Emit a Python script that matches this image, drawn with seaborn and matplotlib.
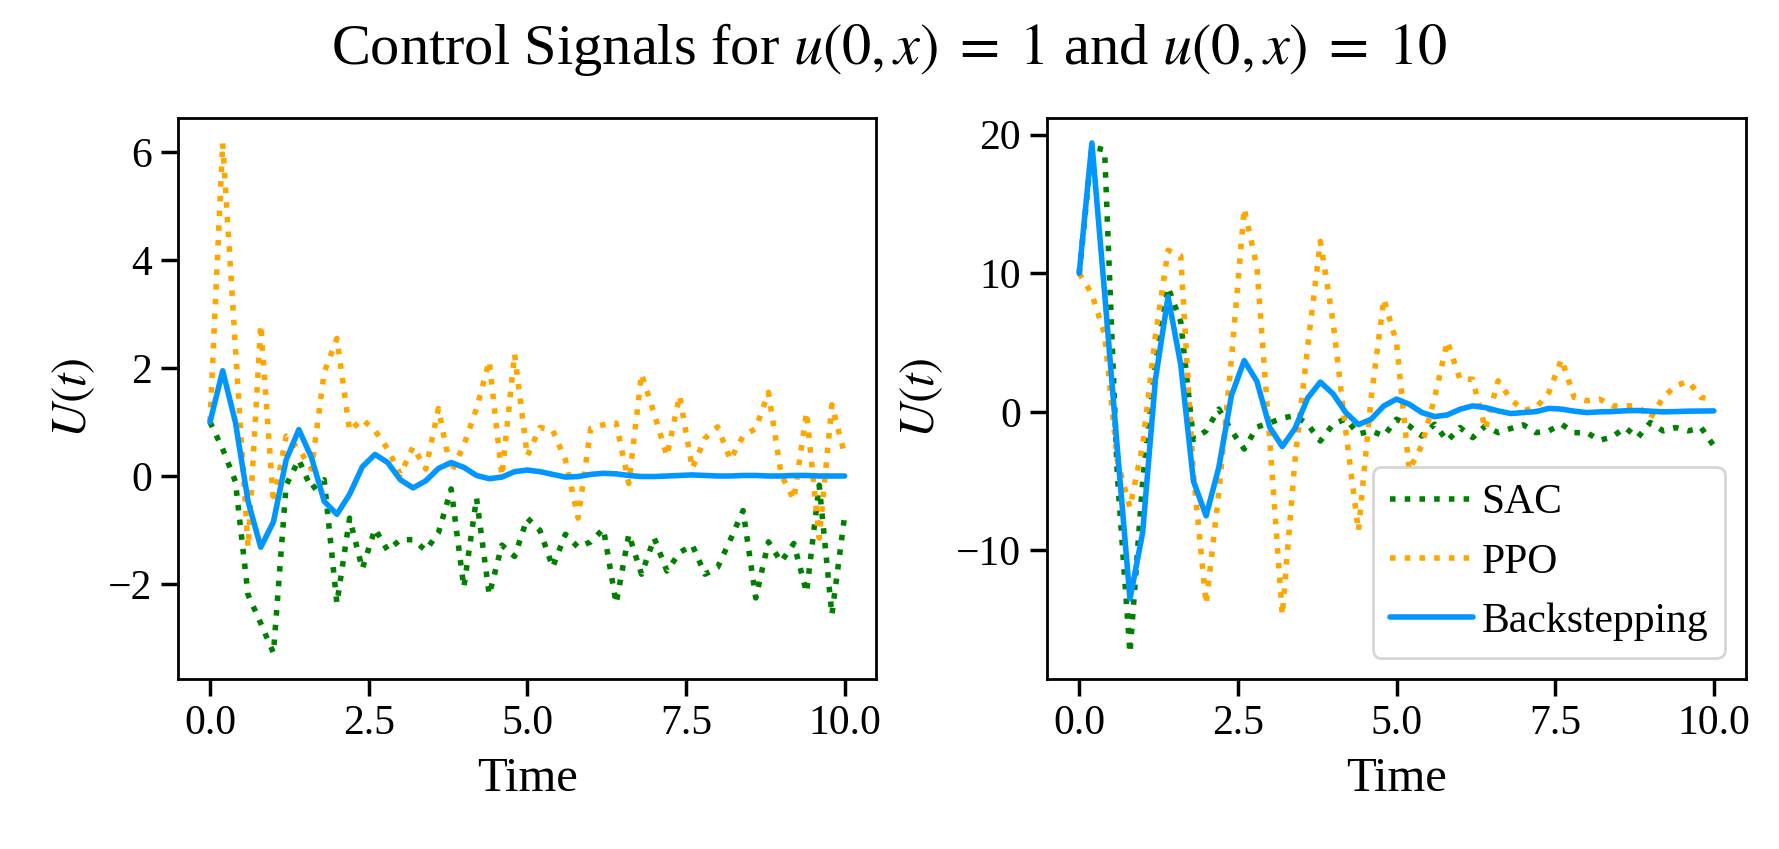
import numpy as np
import pandas as pd
import matplotlib
matplotlib.use("Agg")
import matplotlib.pyplot as plt
import seaborn as sns

sns.set_theme(style="ticks")
plt.rcParams.update({
    "font.family": ["Liberation Serif", "DejaVu Serif"],
    "mathtext.fontset": "stix",
    "axes.edgecolor": "black",
    "axes.linewidth": 1.0,
    "xtick.color": "black",
    "ytick.color": "black",
    "axes.labelcolor": "black",
    "text.color": "black",
    "xtick.labelsize": 15,
    "ytick.labelsize": 15,
    "axes.labelsize": 17.5,
    "legend.fontsize": 15,
})

time = np.linspace(0, 10, 51)

# u(0,x) = 1
sac_1 = [1.0, 0.5, -0.1, -2.2, -2.73, -3.28, -0.17, 0.3, -0.24, -0.07,
         -2.36, -0.78, -1.72, -0.98, -1.38, -1.18, -1.18, -1.38, -1.05, -0.24,
         -2.06, -0.41, -2.2, -1.28, -1.49, -0.78, -1.01, -1.69, -1.08, -1.32,
         -1.22, -0.98, -2.36, -1.08, -1.82, -1.15, -1.76, -1.42, -1.28, -1.82,
         -1.69, -1.18, -0.64, -2.26, -1.22, -1.59, -1.25, -2.16, -0.17, -2.57,
         -0.74]
ppo_1 = [1.0, 6.17, 2.4, -1.32, 2.8, -0.5, 0.74, 0.5, 0.13, 1.92,
         2.55, 0.84, 1.05, 0.84, 0.5, 0.03, 0.54, 0.13, 1.25, 0.07,
         0.57, 1.25, 2.13, 0.0, 2.26, 0.37, 0.9, 0.85, 0.3, -0.78,
         0.88, 0.95, 0.98, -0.14, 1.89, 1.15, 0.37, 1.49, 0.14, 0.7,
         0.91, 0.3, 0.74, 0.88, 1.55, 0.03, -0.44, 1.18, -1.15, 1.32,
         0.4]
bs_1 = [1.0, 1.95, 1.0, -0.47, -1.32, -0.85, 0.3, 0.86, 0.34, -0.47,
        -0.71, -0.34, 0.17, 0.4, 0.25, -0.07, -0.22, -0.09, 0.14, 0.25,
        0.16, 0.01, -0.05, -0.02, 0.08, 0.11, 0.08, 0.03, -0.02, -0.01,
        0.03, 0.05, 0.04, 0.01, -0.01, -0.01, 0.0, 0.01, 0.02, 0.01,
        0.0, 0.0, 0.01, 0.01, 0.0, 0.0, 0.01, 0.01, 0.0, 0.0,
        0.0]

# u(0,x) = 10
sac_10 = [10.0, 19.1, 18.9, -4.5, -17.4, -5.0, 3.5, 9.0, 6.5, -2.0,
          -1.37, 0.2, -1.37, -2.68, -1.1, -0.8, -0.45, -0.26, -0.9, -2.1,
          -0.9, -0.5, -1.6, -1.37, -1.74, -0.53, -1.01, -1.74, -0.89, -2.1,
          -1.13, -1.86, -1.01, -1.5, -1.2, -0.94, -1.5, -1.37, -0.89, -1.5,
          -1.5, -2.05, -1.81, -1.13, -1.86, -0.77, -1.37, -1.13, -1.37, -1.13,
          -2.46]
ppo_10 = [10.0, 8.5, 5.6, -3.5, -6.9, -2.4, 5.47, 11.66, 11.26, -4.5,
          -13.87, -5.84, 3.9, 14.68, 10.47, -1.9, -14.66, -3.47, 4.68, 12.3,
          6.5, -1.37, -8.6, 1.0, 8.15, 5.0, -4.2, -2.4, 1.0, 5.1,
          2.36, 2.36, -1.25, 2.24, 0.92, 0.1, 0.3, 1.4, 3.8, 1.04,
          0.8, 0.92, 0.43, 0.43, 0.43, -0.46, 1.04, 1.88, 2.2, 1.04,
          0.9]
bs_10 = [10.0, 19.4, 8.6, -2.6, -13.5, -8.7, 2.3, 8.3, 3.4, -5.0,
         -7.5, -4.0, 1.2, 3.7, 2.2, -1.1, -2.5, -1.2, 1.0, 2.15,
         1.3, -0.05, -0.92, -0.53, 0.43, 0.92, 0.55, -0.05, -0.34, -0.22,
         0.19, 0.43, 0.31, 0.07, -0.12, -0.05, 0.02, 0.25, 0.2, 0.05,
         -0.05, 0.0, 0.02, 0.08, 0.1, 0.05, 0.0, 0.02, 0.05, 0.06,
         0.07]

fig = plt.figure(figsize=(1779 / 200, 849 / 200), dpi=200)
ax1 = fig.add_axes([0.1002, 0.2008, 0.3924, 0.6608])
ax2 = fig.add_axes([0.5888, 0.2008, 0.3924, 0.6608])

for ax, sac, ppo, bs in [(ax1, sac_1, ppo_1, bs_1), (ax2, sac_10, ppo_10, bs_10)]:
    df = pd.DataFrame({"Time": time, "SAC": sac, "PPO": ppo, "Backstepping": bs})
    sns.lineplot(data=df, x="Time", y="SAC", ax=ax, color="green",
                 linestyle=":", linewidth=2, label="SAC")
    sns.lineplot(data=df, x="Time", y="PPO", ax=ax, color="orange",
                 linestyle=":", linewidth=2, label="PPO")
    sns.lineplot(data=df, x="Time", y="Backstepping", ax=ax, color="#0096ff",
                 linewidth=2, label="Backstepping")
    ax.set_xlabel("Time", labelpad=5)
    ax.set_ylabel("$U(t)$")
    ax.set_xticks([0, 2.5, 5, 7.5, 10])
    ax.set_xticklabels(["0.0", "2.5", "5.0", "7.5", "10.0"])

ax1.get_legend().remove()
ax2.legend(loc="lower right", handletextpad=0.2)

fig.text(0.5, 0.925, r"Control Signals for $u(0,x)\;=\;1$ and $u(0,x)\;=\;10$",
         ha="center", va="baseline", fontsize=21)

fig.savefig("out.png", dpi=200)
